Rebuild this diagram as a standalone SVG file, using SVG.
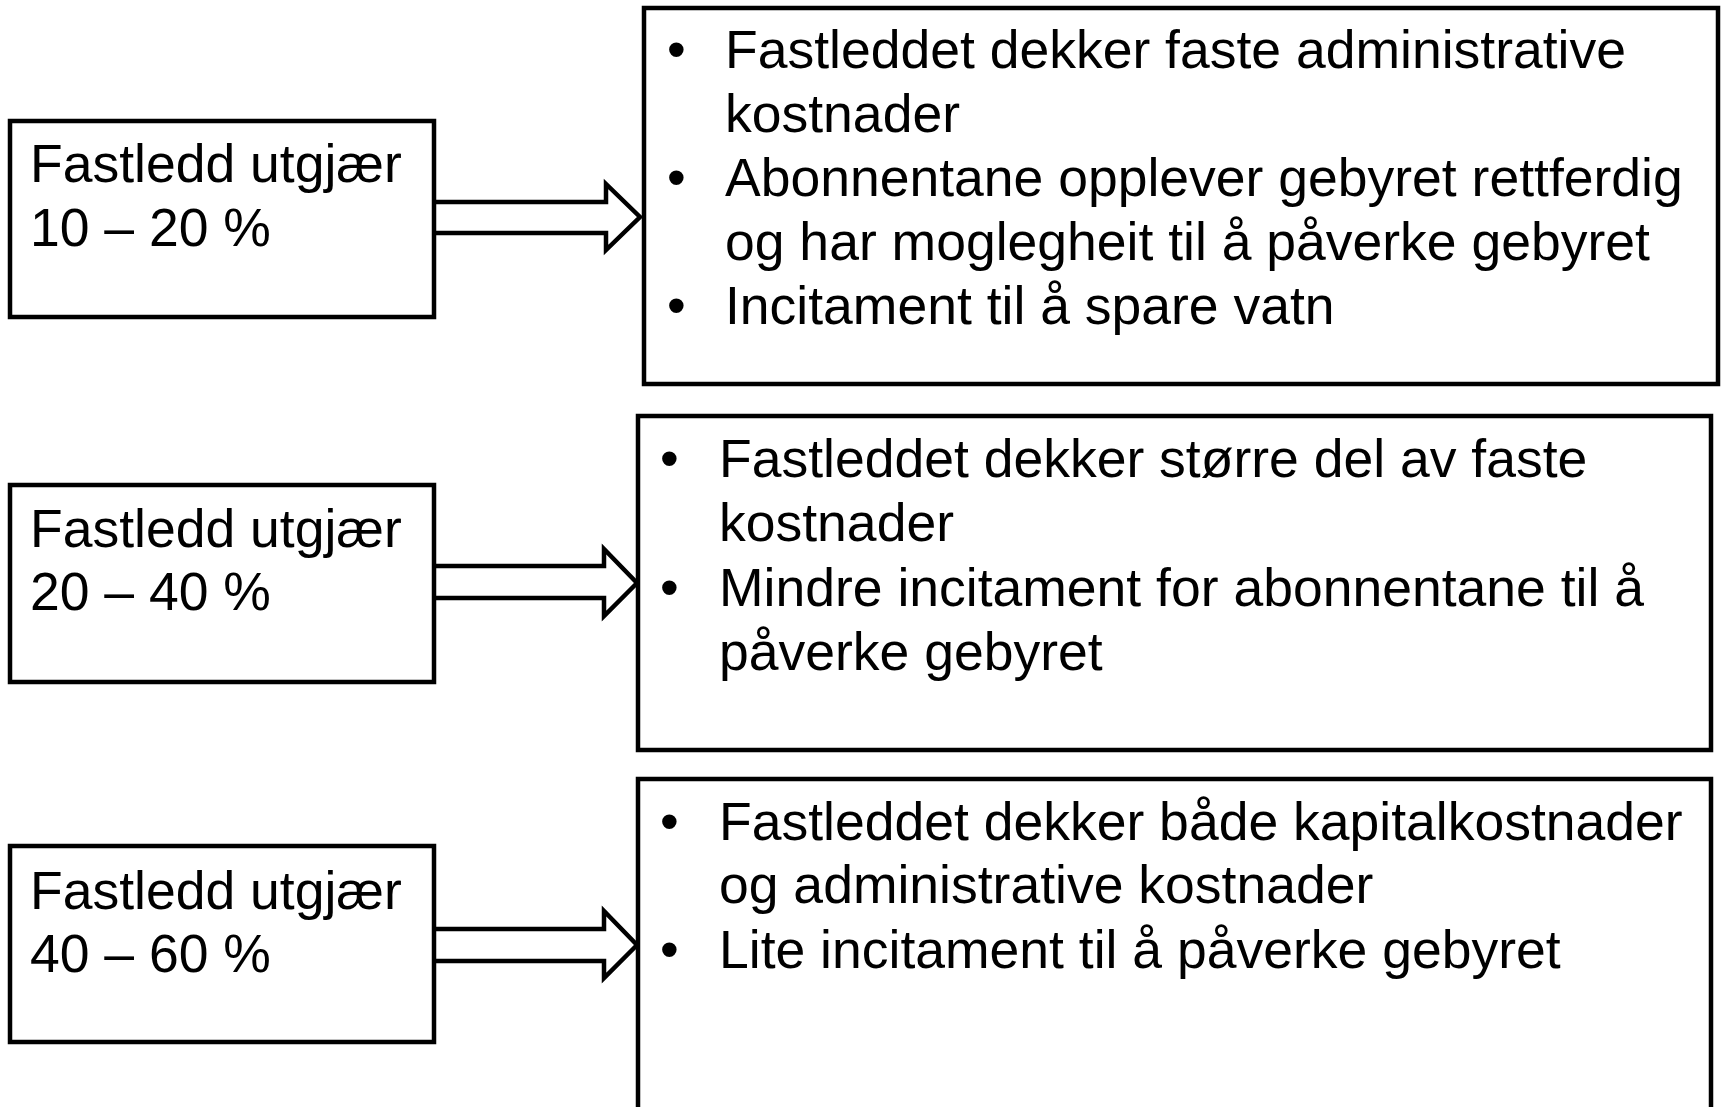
<svg xmlns="http://www.w3.org/2000/svg" width="1721" height="1107" viewBox="0 0 1721 1107">
<style>
.box{fill:#fff;stroke:#000;stroke-width:4.5}
.arr{fill:#fff;stroke:#000;stroke-width:4.5;stroke-linejoin:miter}
text{font-family:"Liberation Sans",Arial,sans-serif;font-size:53.5px;fill:#000}
</style>
<rect width="1721" height="1107" fill="#fff"/>
<g id="connectors">
<path class="arr" d="M434,202 L606,202 L606,184 L640,217 L606,250 L606,233 L434,233"/>
<path class="arr" d="M434,566 L604,566 L604,549 L637,583 L604,616 L604,598 L434,598"/>
<path class="arr" d="M434,929 L604,929 L604,911 L637,945 L604,978 L604,961 L434,961"/>
</g>
<g id="left1">
<rect class="box" x="10" y="121" width="424" height="196"/>
<text x="30" y="182">Fastledd utgjær</text>
<text x="30" y="246">10 – 20 %</text>
</g>
<g id="left2">
<rect class="box" x="10" y="485" width="424" height="197"/>
<text x="30" y="547">Fastledd utgjær</text>
<text x="30" y="610">20 – 40 %</text>
</g>
<g id="left3">
<rect class="box" x="10" y="846" width="424" height="196"/>
<text x="30" y="909">Fastledd utgjær</text>
<text x="30" y="972">40 – 60 %</text>
</g>
<g id="right1">
<rect class="box" x="644" y="8" width="1074" height="376"/>
<text x="667" y="68">•</text><text x="725" y="68">Fastleddet dekker faste administrative</text>
<text x="725" y="132">kostnader</text>
<text x="667" y="196">•</text><text x="725" y="196">Abonnentane opplever gebyret rettferdig</text>
<text x="725" y="260">og har moglegheit til å påverke gebyret</text>
<text x="667" y="324">•</text><text x="725" y="324">Incitament til å spare vatn</text>
</g>
<g id="right2">
<rect class="box" x="638" y="416" width="1073" height="334"/>
<text x="660" y="477">•</text><text x="719" y="477">Fastleddet dekker større del av faste</text>
<text x="719" y="541">kostnader</text>
<text x="660" y="606">•</text><text x="719" y="606">Mindre incitament for abonnentane til å</text>
<text x="719" y="670">påverke gebyret</text>
</g>
<g id="right3">
<rect class="box" x="638" y="779" width="1073" height="360"/>
<text x="660" y="840">•</text><text x="719" y="840">Fastleddet dekker både kapitalkostnader</text>
<text x="719" y="903">og administrative kostnader</text>
<text x="660" y="968">•</text><text x="719" y="968">Lite incitament til å påverke gebyret</text>
</g>
</svg>
